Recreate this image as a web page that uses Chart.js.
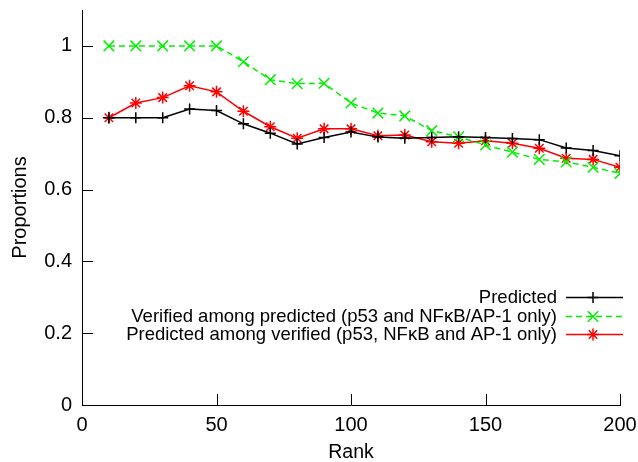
<!DOCTYPE html>
<html>
<head>
<meta charset="utf-8">
<script src="https://cdn.jsdelivr.net/npm/chart.js@4"></script>
<style>
  html, body { margin: 0; padding: 0; background: #fff; }
  #wrap { width: 638px; height: 462px; }
</style>
</head>
<body>
<div id="wrap"><canvas id="rankChart"></canvas></div>
<script>
// Values
const ranks = [10, 20, 30, 40, 50, 60, 70, 80, 90, 100, 110, 120, 130, 140, 150, 160, 170, 180, 190, 200];
const predicted = [0.800, 0.800, 0.800, 0.824, 0.820, 0.783, 0.757, 0.727, 0.745, 0.760, 0.746, 0.743, 0.745, 0.747, 0.745, 0.742, 0.739, 0.716, 0.709, 0.694];
const verifiedAmongPredicted = [1.0, 1.0, 1.0, 1.0, 1.0, 0.956, 0.906, 0.895, 0.896, 0.841, 0.813, 0.805, 0.764, 0.747, 0.724, 0.704, 0.684, 0.677, 0.662, 0.645];
const predictedAmongVerified = [0.800, 0.841, 0.856, 0.889, 0.872, 0.818, 0.775, 0.743, 0.769, 0.769, 0.750, 0.752, 0.733, 0.729, 0.736, 0.729, 0.715, 0.687, 0.684, 0.662];
const seriesLabels = [
  "Predicted",
  "Verified among predicted (p53 and NF\u03BAB/AP-1 only)",
  "Predicted among verified (p53, NF\u03BAB and AP-1 only)"
];
const yTicks = [0, 0.2, 0.4, 0.6, 0.8, 1];
const xTicks = [0, 50, 100, 150, 200];

const FONT = "'Liberation Sans', Arial, Helvetica, sans-serif";

function toPoints(values) {
  return ranks.map((r, i) => ({ x: r, y: values[i] }));
}

// gnuplot style ticks pointing into the plot
const inwardTicks = {
  id: "inwardTicks",
  afterDraw(chart) {
    const { ctx, chartArea, scales } = chart;
    ctx.save();
    ctx.strokeStyle = "#000";
    ctx.lineWidth = 1;
    ctx.beginPath();
    yTicks.forEach(v => {
      const y = Math.round(scales.y.getPixelForValue(v)) + 0.5;
      ctx.moveTo(chartArea.left, y);
      ctx.lineTo(chartArea.left + 11, y);
    });
    xTicks.forEach(v => {
      const x = Math.round(scales.x.getPixelForValue(v)) + 0.5;
      ctx.moveTo(x, chartArea.bottom);
      ctx.lineTo(x, chartArea.bottom - 11);
    });
    ctx.stroke();
    ctx.restore();
  }
};

// legend with text on the left and sample on the right
const keyLegend = {
  id: "keyLegend",
  afterDraw(chart) {
    const { ctx } = chart;
    const textRight = 557, lineL = 566, lineR = 623, top = 297, step = 18.5;
    ctx.save();
    ctx.font = "18.5px " + FONT;
    ctx.textAlign = "right";
    ctx.textBaseline = "middle";
    chart.data.datasets.forEach((ds, i) => {
      const y = Math.round(top + i * step) + 0.5;
      ctx.fillStyle = "#000";
      ctx.fillText(ds.label, textRight, y);
      ctx.strokeStyle = ds.borderColor;
      ctx.lineWidth = ds.borderWidth;
      ctx.setLineDash(ds.borderDash || []);
      ctx.beginPath();
      ctx.moveTo(lineL, y);
      ctx.lineTo(lineR, y);
      ctx.stroke();
      ctx.setLineDash([]);
      Chart.helpers.drawPoint(ctx, {
        pointStyle: ds.pointStyle, radius: ds.pointRadius, rotation: 0, borderWidth: ds.borderWidth
      }, 593, y);
    });
    ctx.restore();
  }
};

new Chart(document.getElementById("rankChart"), {
  type: "line",
  data: {
    datasets: [
      {
        label: seriesLabels[0],
        data: toPoints(predicted),
        borderColor: "#000000",
        pointBorderColor: "#000000",
        borderWidth: 1.5,
        pointStyle: "cross",
        pointRadius: 5.5,
        fill: false
      },
      {
        label: seriesLabels[1],
        data: toPoints(verifiedAmongPredicted),
        borderColor: "#00f000",
        pointBorderColor: "#00f000",
        borderWidth: 1.5,
        borderDash: [6, 4],
        pointStyle: "crossRot",
        pointRadius: 7.5,
        fill: false
      },
      {
        label: seriesLabels[2],
        data: toPoints(predictedAmongVerified),
        borderColor: "#ff0000",
        pointBorderColor: "#ff0000",
        borderWidth: 1.5,
        pointStyle: "star",
        pointRadius: 6,
        fill: false
      }
    ]
  },
  options: {
    responsive: true,
    maintainAspectRatio: false,
    animation: false,
    events: [],
    layout: { padding: { top: 10, right: 18, left: 0, bottom: 0 } },
    plugins: { legend: { display: false }, tooltip: { enabled: false } },
    scales: {
      x: {
        type: "linear",
        min: 0,
        max: 200,
        grid: { display: false, drawTicks: false },
        border: { display: true, color: "#000", width: 1 },
        afterBuildTicks: s => { s.ticks = xTicks.map(v => ({ value: v })); },
        afterFit: s => { s.height = 57; s.paddingLeft = 0; s.paddingRight = 0; },
        ticks: { color: "#000", font: { family: FONT, size: 20 }, padding: 8, maxRotation: 0 },
        title: { display: true, text: "Rank", color: "#000", font: { family: FONT, size: 19.5, lineHeight: 1 }, padding: { top: 2, bottom: 0 } }
      },
      y: {
        min: 0,
        max: 1.1,
        grid: { display: false, drawTicks: false },
        border: { display: true, color: "#000", width: 1 },
        afterBuildTicks: s => { s.ticks = yTicks.map(v => ({ value: v })); },
        afterFit: s => { s.width = 82; s.paddingTop = 0; s.paddingBottom = 0; },
        ticks: { color: "#000", font: { family: FONT, size: 20 }, padding: 10, callback: v => String(v) },
        title: { display: true, text: "Proportions", color: "#000", font: { family: FONT, size: 20, lineHeight: 1.2 }, padding: { top: 8, bottom: 4 } }
      }
    }
  },
  plugins: [inwardTicks, keyLegend]
});
</script>
</body>
</html>
